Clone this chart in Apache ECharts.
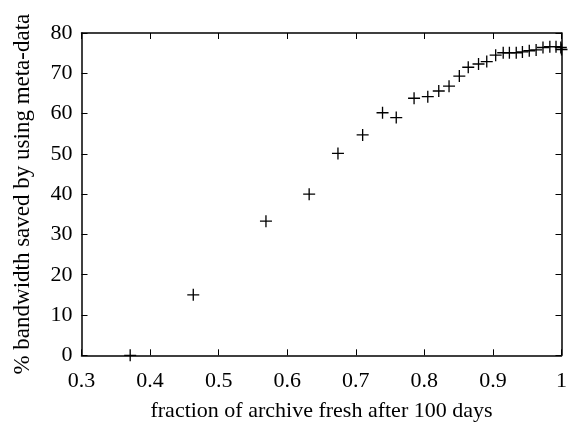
<!DOCTYPE html>
<html>
<head>
<meta charset="utf-8">
<script src="https://cdn.jsdelivr.net/npm/echarts@6/dist/echarts.min.js"></script>
<style>
html,body{margin:0;padding:0;background:#fff;}
#chart{width:570px;height:433px;}
</style>
</head>
<body>
<div id="chart"></div>
<script>
var xValues = [0.371, 0.463, 0.569, 0.632, 0.674, 0.710, 0.739, 0.759, 0.785, 0.805, 0.821, 0.836, 0.851, 0.864, 0.879, 0.891, 0.904, 0.915, 0.924, 0.934, 0.943, 0.953, 0.963, 0.973, 0.983, 0.992, 0.999, 1.0];
var yValues = [0, 15.0, 33.3, 40.0, 50.1, 54.7, 60.2, 59.0, 63.8, 64.2, 65.6, 66.8, 69.3, 71.5, 72.3, 72.9, 74.5, 75.1, 75.1, 75.1, 75.3, 75.6, 75.8, 76.4, 76.6, 76.6, 76.4, 75.9];
var xTicks = [0.3, 0.4, 0.5, 0.6, 0.7, 0.8, 0.9, 1];
var yTicks = [0, 10, 20, 30, 40, 50, 60, 70, 80];
var xLabel = 'fraction of archive fresh after 100 days';
var yLabel = '% bandwidth saved by using meta-data';

var data = xValues.map(function (x, i) { return [x, yValues[i]]; });
var font = 'Liberation Serif';
var lineStyle = { color: '#000', width: 1.5 };

var chart = echarts.init(document.getElementById('chart'), null, { renderer: 'canvas' });
chart.setOption({
  backgroundColor: '#fff',
  animation: false,
  grid: { left: 81.5, right: 7.5, top: 33, bottom: 77.7, containLabel: false },
  xAxis: [{
    type: 'value', min: xTicks[0], max: xTicks[xTicks.length - 1], interval: 0.1,
    name: xLabel, nameLocation: 'middle', nameGap: 45,
    nameTextStyle: { fontFamily: font, fontSize: 22, color: '#000' },
    axisLine: { show: true, onZero: false, lineStyle: lineStyle },
    axisTick: { show: true, inside: true, length: 6, lineStyle: { color: '#000', width: 1 } },
    axisLabel: { fontFamily: font, fontSize: 22, color: '#000', margin: 15,
      formatter: function (v) { return String(+v.toFixed(1)); } },
    splitLine: { show: false }
  }, {
    type: 'value', position: 'top', min: xTicks[0], max: xTicks[xTicks.length - 1], interval: 0.1,
    axisLine: { show: true, onZero: false, lineStyle: lineStyle },
    axisTick: { show: true, inside: true, length: 6, lineStyle: { color: '#000', width: 1 } },
    axisLabel: { show: false }, splitLine: { show: false }
  }],
  yAxis: [{
    type: 'value', min: yTicks[0], max: yTicks[yTicks.length - 1], interval: 10,
    name: yLabel, nameLocation: 'middle', nameGap: 47, nameRotate: 90,
    nameTextStyle: { fontFamily: font, fontSize: 23, color: '#000' },
    axisLine: { show: true, onZero: false, lineStyle: lineStyle },
    axisTick: { show: true, inside: true, length: 6, lineStyle: { color: '#000', width: 1 } },
    axisLabel: { fontFamily: font, fontSize: 22, color: '#000', margin: 9 },
    splitLine: { show: false }
  }, {
    type: 'value', position: 'right', min: yTicks[0], max: yTicks[yTicks.length - 1], interval: 10,
    axisLine: { show: true, onZero: false, lineStyle: lineStyle },
    axisTick: { show: true, inside: true, length: 6, lineStyle: { color: '#000', width: 1 } },
    axisLabel: { show: false }, splitLine: { show: false }
  }],
  series: [{
    type: 'scatter',
    xAxisIndex: 0, yAxisIndex: 0,
    data: data,
    symbol: 'path://M0,4.45H10V5.55H0Z M4.45,0H5.55V10H4.45Z',
    symbolSize: 12,
    itemStyle: { color: '#000', opacity: 1 },
    clip: false
  }]
});
</script>
</body>
</html>
